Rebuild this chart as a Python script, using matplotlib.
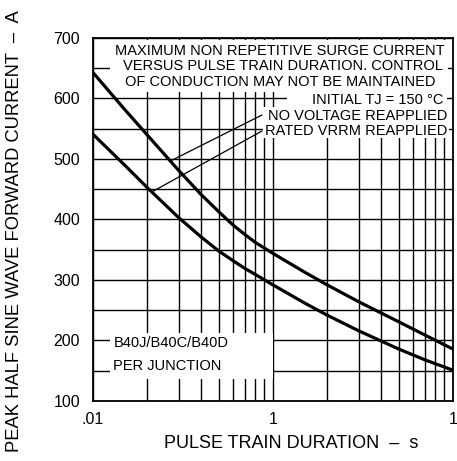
import numpy as np
import matplotlib
matplotlib.use("Agg")
import matplotlib.pyplot as plt
from matplotlib.patches import Rectangle
from matplotlib.ticker import FixedLocator, NullFormatter, FixedFormatter

# ---------------- data ----------------
duration_s = [0.01, 0.015, 0.02, 0.03, 0.04, 0.05, 0.06, 0.07, 0.08,
              0.1, 0.15, 0.2, 0.3, 0.5, 0.7, 1.0]
no_voltage_reapplied = [643, 582, 540, 481, 441, 413, 391, 375, 362,
                        344, 313, 292, 264, 231, 209, 186]
rated_vrrm_reapplied = [541, 490, 453, 403, 371, 348, 332, 319, 309,
                        292, 262, 242, 216, 186, 168, 151]

x_tick_values = [0.01, 0.1, 1.0]
x_tick_labels = [".01", "1", "1"]
y_tick_values = [100, 200, 300, 400, 500, 600, 700]
y_minor_values = [150, 250, 350, 450, 550, 650]

title_lines = ["MAXIMUM NON REPETITIVE SURGE CURRENT",
               "VERSUS PULSE TRAIN DURATION. CONTROL",
               "OF CONDUCTION MAY NOT BE MAINTAINED"]
cond_lines = ["INITIAL TJ = 150 °C", "NO VOLTAGE REAPPLIED", "RATED VRRM REAPPLIED"]
device_lines = ["B40J/B40C/B40D", "PER JUNCTION"]

# ---------------- figure / layout ----------------
FONT = "Liberation Sans"
plt.rcParams["font.family"] = [FONT, "DejaVu Sans"]

W_PX, H_PX = 457, 461
fig = plt.figure(figsize=(W_PX / 100, H_PX / 100), dpi=100)
AX_L, AX_R, AX_T, AX_B = 92.7, 452.7, 37.7, 401.0
ax = fig.add_axes([AX_L / W_PX, (H_PX - AX_B) / H_PX,
                   (AX_R - AX_L) / W_PX, (AX_B - AX_T) / H_PX])


def af(px, py):
    """pixel position in the figure -> axes fraction"""
    return ((px - AX_L) / (AX_R - AX_L), (AX_B - py) / (AX_B - AX_T))


ax.set_xscale("log")
ax.set_xlim(0.01, 1.0)
ax.set_ylim(100, 700)

ax.xaxis.set_major_locator(FixedLocator(x_tick_values))
ax.xaxis.set_major_formatter(FixedFormatter(x_tick_labels))
minor_x = [m * d for d in (0.01, 0.1) for m in range(2, 10)]
ax.xaxis.set_minor_locator(FixedLocator(minor_x))
ax.xaxis.set_minor_formatter(NullFormatter())
ax.set_yticks(y_tick_values)
ax.set_yticks(y_minor_values, minor=True)

ax.set_axisbelow(True)
ax.grid(which="both", color="black", lw=1.0)
ax.tick_params(which="both", length=0, labelsize=11.5, colors="black")
ax.tick_params(axis="y", pad=9)
ax.tick_params(axis="x", pad=8)
for s in ax.spines.values():
    s.set_linewidth(1.3)
    s.set_color("black")

# curves
ax.plot(duration_s, no_voltage_reapplied, color="black", lw=2.3, zorder=3,
        solid_capstyle="butt", solid_joinstyle="round")
ax.plot(duration_s, rated_vrrm_reapplied, color="black", lw=2.3, zorder=3,
        solid_capstyle="butt", solid_joinstyle="round")

# white areas behind the texts (hide grid)
def white_box(x0, y0, x1, y1):
    fx0, fy1 = af(x0, y0)
    fx1, fy0 = af(x1, y1)
    ax.add_patch(Rectangle((fx0, fy0), fx1 - fx0, fy1 - fy0, transform=ax.transAxes,
                           facecolor="white", edgecolor="none", zorder=2))

white_box(110, 40, 448, 92)
white_box(287, 92, 447, 107)
white_box(263, 107, 449, 138)
white_box(110, 333, 273, 379)

txt_kw = dict(fontsize=10.5, color="black", zorder=4, transform=ax.transAxes,
              family=[FONT, "DejaVu Sans"])
ax.text(*af(280, 50.7), title_lines[0], ha="center", va="center", **txt_kw)
ax.text(*af(283, 66.3), title_lines[1], ha="center", va="center", **txt_kw)
ax.text(*af(280, 82.0), title_lines[2], ha="center", va="center", **txt_kw)
ax.text(*af(443, 99.5), cond_lines[0], ha="right", va="center", **txt_kw)
ax.text(*af(447, 115.7), cond_lines[1], ha="right", va="center", **txt_kw)
ax.text(*af(447, 131.0), cond_lines[2], ha="right", va="center", **txt_kw)
ax.text(*af(113.3, 342.7), device_lines[0], ha="left", va="center", **txt_kw)
ax.text(*af(113.3, 366.0), device_lines[1], ha="left", va="center", **txt_kw)

# leader lines from labels to the curves
lx = np.log10(duration_s)
x_nv, x_rv = 0.027, 0.0213
y_nv = np.interp(np.log10(x_nv), lx, no_voltage_reapplied)
y_rv = np.interp(np.log10(x_rv), lx, rated_vrrm_reapplied)
for (xd, yd), (px, py) in [((x_nv, y_nv), (262, 115)), ((x_rv, y_rv), (262, 131))]:
    ax.annotate("", xy=(xd, yd), xycoords="data", xytext=af(px, py),
                textcoords="axes fraction",
                arrowprops=dict(arrowstyle="-", lw=0.9, color="black",
                                shrinkA=0, shrinkB=0), zorder=3)

# axis labels
fig.text(15 / W_PX, 1 - 231 / H_PX, "PEAK HALF SINE WAVE FORWARD CURRENT  –  A",
         rotation=90, ha="center", va="center", fontsize=13.2, color="black")
fig.text(291 / W_PX, 1 - 443 / H_PX, "PULSE TRAIN DURATION  –  s",
         ha="center", va="center", fontsize=13, color="black")

fig.savefig("out.png", dpi=100)
